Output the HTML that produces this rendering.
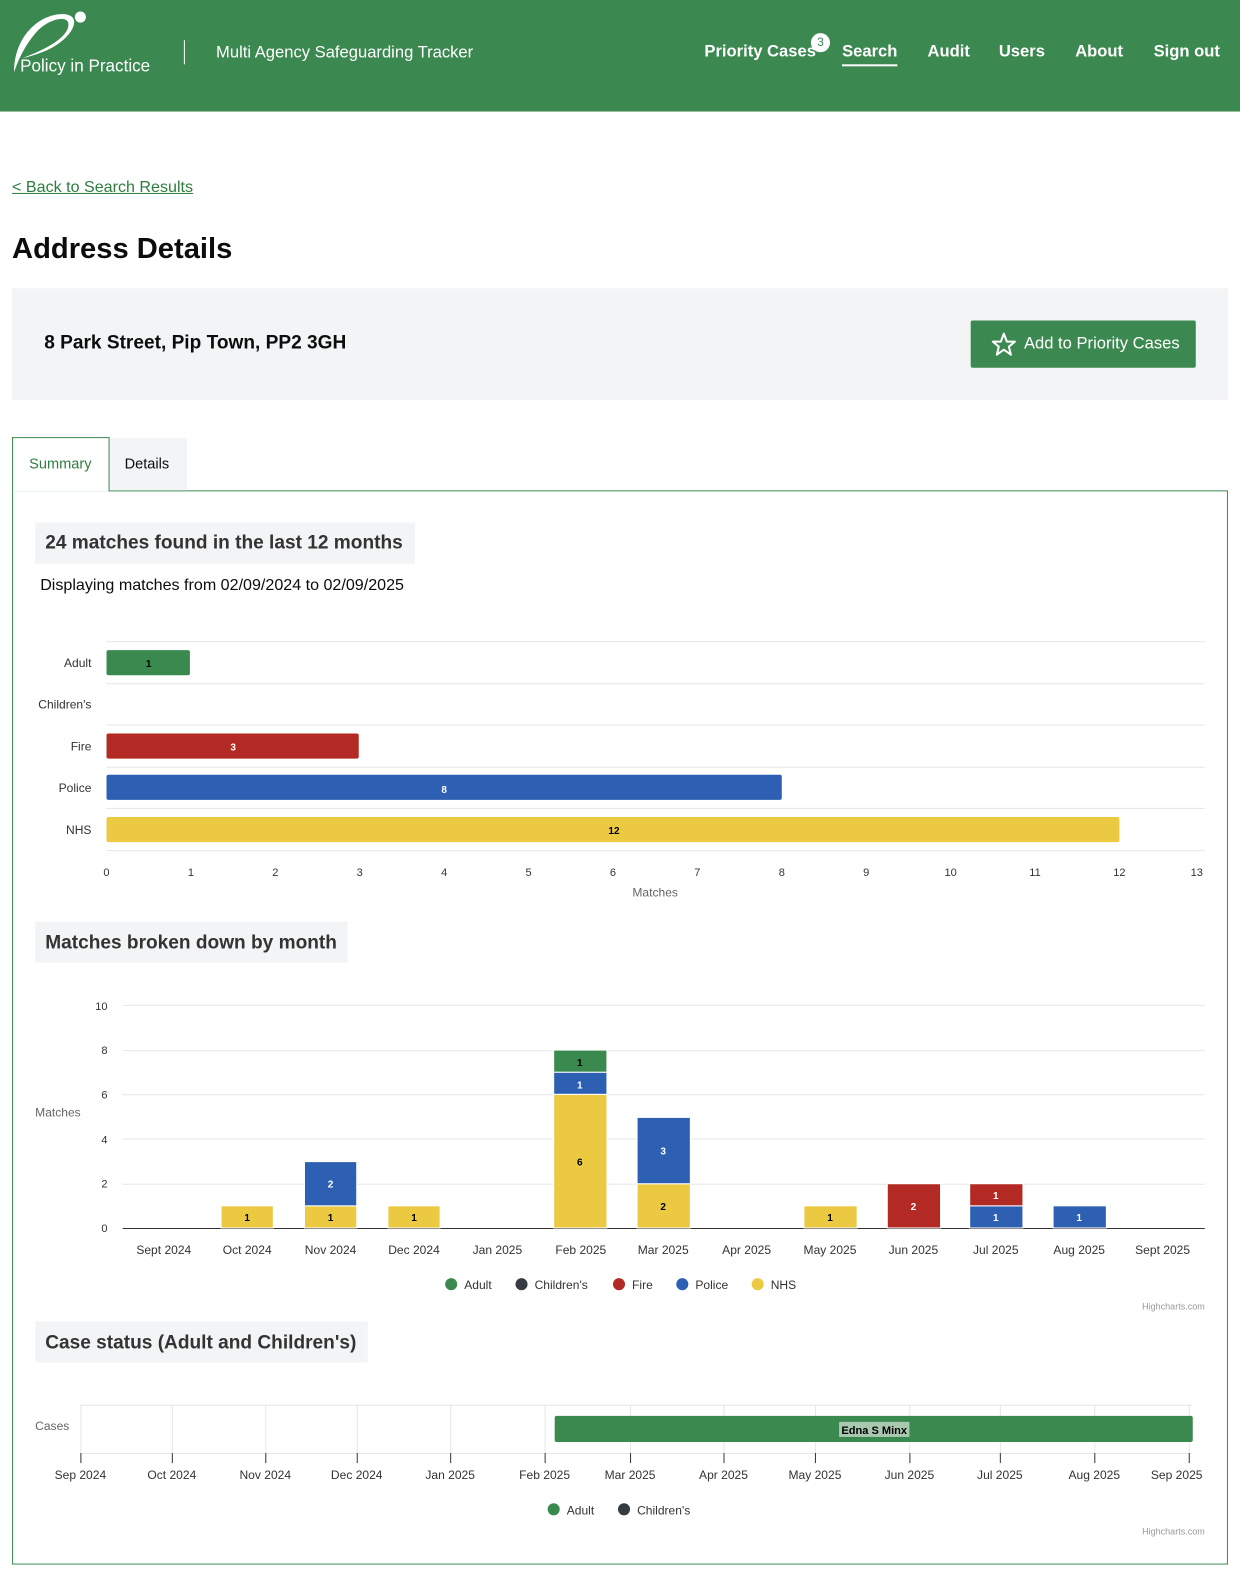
<!DOCTYPE html>
<html><head><meta charset="utf-8"><style>
*{margin:0;padding:0;box-sizing:border-box}
body{width:1240px;height:1576px;position:relative;font-family:"Liberation Sans",sans-serif;background:#fff;overflow:hidden;color:#0b0c0c}
#w{position:absolute;left:0;top:0;width:1234px;height:1568px;transform:scale(1.00486);transform-origin:0 0}
.a{position:absolute;white-space:nowrap}
.hdr{position:absolute;left:0;top:0;width:1240px;height:111px;background:#3b8950}
.nav{color:#fff;font-size:16.5px;font-weight:bold;top:42px}
</style></head><body><div id="w">
<div class="hdr"></div>
<svg class="a" style="left:0;top:0" width="180" height="90"><path d="M14 72 C14 35 40 14 62 14 C80 14 76 30 60 42 C50 50 35 55 22 58 C38 52 66 40 68 26 C70 14 50 18 38 30 C25 44 18 60 14 72Z" fill="#fff"/><circle cx="80" cy="17" r="5.5" fill="#fff"/></svg>
<div class="a" style="left:20px;top:56px;color:#fff;font-size:17px">Policy in Practice</div>
<div class="a" style="left:183px;top:40px;width:1px;height:24px;background:#fff"></div>
<div class="a" style="left:215px;top:43px;color:#fff;font-size:16.5px">Multi Agency Safeguarding Tracker</div>
<div class="a nav" style="left:701px">Priority Cases</div>
<div class="a" style="left:807px;top:33px;width:19px;height:19px;border-radius:50%;background:#fff;color:#3b8950;font-size:12px;text-align:center;line-height:19px">3</div>
<div class="a nav" style="left:838px;border-bottom:2px solid #fff;padding-bottom:3px">Search</div>
<div class="a nav" style="left:923px">Audit</div>
<div class="a nav" style="left:994px">Users</div>
<div class="a nav" style="left:1070px">About</div>
<div class="a nav" style="left:1148px">Sign out</div>
<div class="a" style="left:12px;top:178px;color:#2e7d3f;font-size:16px;text-decoration:underline">&lt; Back to Search Results</div>
<div class="a" style="left:12px;top:232px;font-size:29px;font-weight:bold">Address Details</div>
<div class="a" style="left:12px;top:287px;width:1210px;height:111px;background:#f3f4f5"></div>
<div class="a" style="left:44px;top:331px;font-size:19px;font-weight:bold">8 Park Street, Pip Town, PP2 3GH</div>
<div class="a" style="left:966px;top:319px;width:224px;height:47px;background:#3b8950;border-radius:2px"></div>
<svg class="a" style="left:986px;top:330px" width="26" height="25"><polygon points="13,2 16,10 24,10 18,15 20,23 13,18 6,23 8,15 2,10 10,10" fill="none" stroke="#fff" stroke-width="2" stroke-linejoin="round"/></svg>
<div class="a" style="left:1019px;top:333px;color:#fff;font-size:16.5px">Add to Priority Cases</div>
<div class="a" style="left:12px;top:488px;width:1210px;height:1069px;border:1px solid #3b8950"></div>
<div class="a" style="left:108px;top:436px;width:78px;height:52px;background:#f3f4f5"></div>
<div class="a" style="left:12px;top:435px;width:97px;height:54px;background:#fff;border:1px solid #3b8950;border-bottom:none"></div>
<div class="a" style="left:29px;top:454px;color:#2e7d3f;font-size:14.5px">Summary</div>
<div class="a" style="left:124px;top:454px;font-size:14.5px">Details</div>
<div class="a" style="left:35px;top:520px;width:378px;height:41px;background:#f3f4f5"></div>
<div class="a" style="left:45px;top:530px;font-size:19px;font-weight:bold;color:#333">24 matches found in the last 12 months</div>
<div class="a" style="left:40px;top:574px;font-size:16px">Displaying matches from 02/09/2024 to 02/09/2025</div>
<div class="a" style="left:35px;top:917px;width:311px;height:41px;background:#f3f4f5"></div>
<div class="a" style="left:45px;top:928px;font-size:19px;font-weight:bold;color:#333">Matches broken down by month</div>
<div class="a" style="left:35px;top:1315px;width:331px;height:41px;background:#f3f4f5"></div>
<div class="a" style="left:45px;top:1326px;font-size:19px;font-weight:bold;color:#333">Case status (Adult and Children's)</div>
<svg class="a" style="left:0;top:0" width="1240" height="1576" font-family="Liberation Sans, sans-serif" font-size="12" fill="#333">
<g stroke="#e6e6e6"><line x1="106" x2="1199" y1="638.5" y2="638.5"/><line x1="106" x2="1199" y1="680.5" y2="680.5"/><line x1="106" x2="1199" y1="721.5" y2="721.5"/><line x1="106" x2="1199" y1="763.5" y2="763.5"/><line x1="106" x2="1199" y1="804.5" y2="804.5"/><line x1="106" x2="1199" y1="846.5" y2="846.5"/></g>
<g text-anchor="end"><text x="91" y="664">Adult</text><text x="91" y="705">Children's</text><text x="91" y="747">Fire</text><text x="91" y="788">Police</text><text x="91" y="830">NHS</text></g>
<rect x="106" y="647" width="83" height="25" rx="2" fill="#3a8a4f"/><rect x="106" y="730" width="251" height="25" rx="2" fill="#b22a23"/><rect x="106" y="771" width="672" height="25" rx="2" fill="#2d5fb3"/><rect x="106" y="813" width="1008" height="25" rx="2" fill="#ebca42"/>
<g font-size="10" font-weight="bold" text-anchor="middle"><text x="148" y="664" fill="#000">1</text><text x="232" y="747" fill="#fff">3</text><text x="442" y="789" fill="#fff">8</text><text x="611" y="830" fill="#000">12</text></g>
<g text-anchor="middle" font-size="11"><text x="106" y="872">0</text><text x="190" y="872">1</text><text x="274" y="872">2</text><text x="358" y="872">3</text><text x="442" y="872">4</text><text x="526" y="872">5</text><text x="610" y="872">6</text><text x="694" y="872">7</text><text x="778" y="872">8</text><text x="862" y="872">9</text><text x="946" y="872">10</text><text x="1030" y="872">11</text><text x="1114" y="872">12</text><text x="1191" y="872">13</text><text x="652" y="892" font-size="12" fill="#666">Matches</text></g>
<g stroke="#e6e6e6"><line x1="122" x2="1199" y1="1000.5" y2="1000.5"/><line x1="122" x2="1199" y1="1045.5" y2="1045.5"/><line x1="122" x2="1199" y1="1089.5" y2="1089.5"/><line x1="122" x2="1199" y1="1133.5" y2="1133.5"/><line x1="122" x2="1199" y1="1178.5" y2="1178.5"/></g>
<line x1="122" x2="1199" y1="1222.5" y2="1222.5" stroke="#333"/>
<g text-anchor="end" font-size="11"><text x="107" y="1005">10</text><text x="107" y="1049">8</text><text x="107" y="1093">6</text><text x="107" y="1138">4</text><text x="107" y="1182">2</text><text x="107" y="1226">0</text></g>
<text x="35" y="1111" fill="#666">Matches</text>
<g stroke="#fff" stroke-width="1">
<rect x="220" y="1200" width="52" height="22" fill="#ebca42"/>
<rect x="303" y="1200" width="52" height="22" fill="#ebca42"/><rect x="303" y="1156" width="52" height="44" fill="#2d5fb3"/>
<rect x="386" y="1200" width="52" height="22" fill="#ebca42"/>
<rect x="551" y="1089" width="53" height="133" fill="#ebca42"/><rect x="551" y="1067" width="53" height="22" fill="#2d5fb3"/><rect x="551" y="1045" width="53" height="22" fill="#3a8a4f"/>
<rect x="634" y="1178" width="53" height="44" fill="#ebca42"/><rect x="634" y="1112" width="53" height="66" fill="#2d5fb3"/>
<rect x="800" y="1200" width="53" height="22" fill="#ebca42"/>
<rect x="883" y="1178" width="53" height="44" fill="#b22a23"/>
<rect x="965" y="1200" width="53" height="22" fill="#2d5fb3"/><rect x="965" y="1178" width="53" height="22" fill="#b22a23"/>
<rect x="1048" y="1200" width="53" height="22" fill="#2d5fb3"/></g>
<g font-size="10" font-weight="bold" text-anchor="middle">
<text x="246" y="1215" fill="#000">1</text><text x="329" y="1215" fill="#000">1</text><text x="329" y="1182" fill="#fff">2</text><text x="412" y="1215" fill="#000">1</text>
<text x="577" y="1160" fill="#000">6</text><text x="577" y="1083" fill="#fff">1</text><text x="577" y="1061" fill="#000">1</text>
<text x="660" y="1204" fill="#000">2</text><text x="660" y="1149" fill="#fff">3</text><text x="826" y="1215" fill="#000">1</text>
<text x="909" y="1204" fill="#fff">2</text><text x="991" y="1215" fill="#fff">1</text><text x="991" y="1193" fill="#fff">1</text><text x="1074" y="1215" fill="#fff">1</text></g>
<g text-anchor="middle"><text x="163" y="1248">Sept 2024</text><text x="246" y="1248">Oct 2024</text><text x="329" y="1248">Nov 2024</text><text x="412" y="1248">Dec 2024</text><text x="495" y="1248">Jan 2025</text><text x="578" y="1248">Feb 2025</text><text x="660" y="1248">Mar 2025</text><text x="743" y="1248">Apr 2025</text><text x="826" y="1248">May 2025</text><text x="909" y="1248">Jun 2025</text><text x="991" y="1248">Jul 2025</text><text x="1074" y="1248">Aug 2025</text><text x="1157" y="1248">Sept 2025</text></g>
<circle cx="449" cy="1278" r="6" fill="#3a8a4f"/><text x="462" y="1283">Adult</text>
<circle cx="519" cy="1278" r="6" fill="#363b42"/><text x="532" y="1283">Children's</text>
<circle cx="616" cy="1278" r="6" fill="#b22a23"/><text x="629" y="1283">Fire</text>
<circle cx="679" cy="1278" r="6" fill="#2d5fb3"/><text x="692" y="1283">Police</text>
<circle cx="754" cy="1278" r="6" fill="#ebca42"/><text x="767" y="1283">NHS</text>
<text x="1199" y="1303" font-size="9" fill="#999" text-anchor="end">Highcharts.com</text>
<g stroke="#e6e6e6"><line x1="80" x2="1186" y1="1398.5" y2="1398.5"/><line x1="80" x2="1186" y1="1446.5" y2="1446.5"/>
<line x1="80.5" x2="80.5" y1="1398" y2="1446"/><line x1="171.5" x2="171.5" y1="1398" y2="1446"/><line x1="264.5" x2="264.5" y1="1398" y2="1446"/><line x1="355.5" x2="355.5" y1="1398" y2="1446"/><line x1="448.5" x2="448.5" y1="1398" y2="1446"/><line x1="542.5" x2="542.5" y1="1398" y2="1446"/><line x1="627.5" x2="627.5" y1="1398" y2="1446"/><line x1="720.5" x2="720.5" y1="1398" y2="1446"/><line x1="811.5" x2="811.5" y1="1398" y2="1446"/><line x1="905.5" x2="905.5" y1="1398" y2="1446"/><line x1="995.5" x2="995.5" y1="1398" y2="1446"/><line x1="1089.5" x2="1089.5" y1="1398" y2="1446"/><line x1="1183.5" x2="1183.5" y1="1398" y2="1446"/></g>
<g stroke="#333"><line x1="80.5" x2="80.5" y1="1446" y2="1456"/><line x1="171.5" x2="171.5" y1="1446" y2="1456"/><line x1="264.5" x2="264.5" y1="1446" y2="1456"/><line x1="355.5" x2="355.5" y1="1446" y2="1456"/><line x1="448.5" x2="448.5" y1="1446" y2="1456"/><line x1="542.5" x2="542.5" y1="1446" y2="1456"/><line x1="627.5" x2="627.5" y1="1446" y2="1456"/><line x1="720.5" x2="720.5" y1="1446" y2="1456"/><line x1="811.5" x2="811.5" y1="1446" y2="1456"/><line x1="905.5" x2="905.5" y1="1446" y2="1456"/><line x1="995.5" x2="995.5" y1="1446" y2="1456"/><line x1="1089.5" x2="1089.5" y1="1446" y2="1456"/><line x1="1183.5" x2="1183.5" y1="1446" y2="1456"/></g>
<text x="35" y="1423" fill="#666">Cases</text>
<rect x="552" y="1409" width="635" height="26" rx="2" fill="#3a8a4f"/>
<rect x="835" y="1415" width="70" height="15" fill="#a8c8b0"/>
<text x="870" y="1427" font-size="11" font-weight="bold" fill="#000" text-anchor="middle">Edna S Minx</text>
<g text-anchor="middle"><text x="80" y="1472">Sep 2024</text><text x="171" y="1472">Oct 2024</text><text x="264" y="1472">Nov 2024</text><text x="355" y="1472">Dec 2024</text><text x="448" y="1472">Jan 2025</text><text x="542" y="1472">Feb 2025</text><text x="627" y="1472">Mar 2025</text><text x="720" y="1472">Apr 2025</text><text x="811" y="1472">May 2025</text><text x="905" y="1472">Jun 2025</text><text x="995" y="1472">Jul 2025</text><text x="1089" y="1472">Aug 2025</text><text x="1171" y="1472">Sep 2025</text></g>
<circle cx="551" cy="1502" r="6" fill="#3a8a4f"/><text x="564" y="1507">Adult</text>
<circle cx="621" cy="1502" r="6" fill="#363b42"/><text x="634" y="1507">Children's</text>
<text x="1199" y="1527" font-size="9" fill="#999" text-anchor="end">Highcharts.com</text>
</svg>
</div></body></html>
